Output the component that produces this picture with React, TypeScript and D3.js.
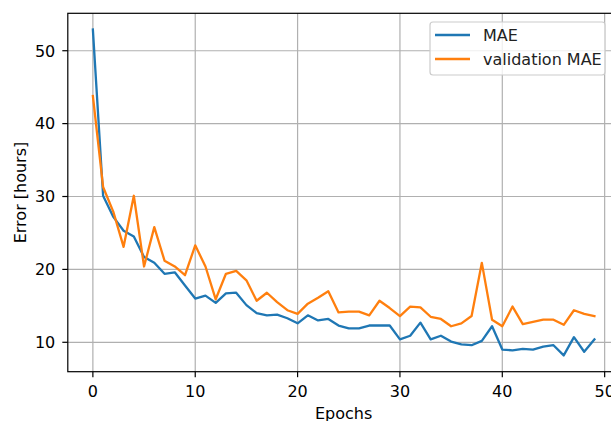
import * as d3 from "d3";

const epochs = d3.range(0, 50);
const mae = [
  52.9, 30.1, 27.2, 25.3, 24.5, 21.7, 20.9, 19.4, 19.6, 17.8,
  16.0, 16.4, 15.4, 16.7, 16.8, 15.1, 14.0, 13.7, 13.8, 13.3,
  12.6, 13.7, 13.0, 13.2, 12.3, 11.9, 11.9, 12.3, 12.3, 12.3,
  10.4, 10.9, 12.7, 10.4, 10.9, 10.1, 9.7, 9.6, 10.2, 12.2,
  9.0, 8.9, 9.1, 9.0, 9.4, 9.6, 8.2, 10.7, 8.7, 10.4,
];
const valMae = [
  43.8, 31.3, 27.9, 23.1, 30.1, 20.4, 25.8, 21.2, 20.4, 19.2,
  23.3, 20.4, 15.9, 19.4, 19.8, 18.5, 15.7, 16.8, 15.5, 14.4,
  13.9, 15.3, 16.1, 17.0, 14.1, 14.2, 14.2, 13.7, 15.7, 14.7,
  13.6, 14.9, 14.8, 13.5, 13.2, 12.2, 12.6, 13.6, 20.9, 13.1,
  12.2, 14.9, 12.5, 12.8, 13.1, 13.1, 12.4, 14.4, 13.9, 13.6,
];
const xTicks = [0, 10, 20, 30, 40, 50];
const yTicks = [10, 20, 30, 40, 50];
const series = [
  { name: "MAE", values: mae, color: "#1f77b4" },
  { name: "validation MAE", values: valMae, color: "#ff7f0e" },
];

const W = 611, H = 421;
const left = 67.8, right = 619.5, top = 13.3, bottom = 371.7;
const font = "DejaVu Sans, sans-serif";
const fs = 16;

export default function App() {
  const all = mae.concat(valMae);
  const lo = d3.min(all)!, hi = d3.max(all)!;
  const pad = (hi - lo) * 0.05;
  const x = d3.scaleLinear().domain([-2.45, 51.45]).range([left, right]);
  const y = d3.scaleLinear().domain([lo - pad, hi + pad]).range([bottom, top]);

  const line = (vals: number[]) =>
    d3.line<number>().x((_, i) => x(epochs[i])).y((d) => y(d))(vals)!;

  return (
    <svg width={W} height={H} style={{ position: "absolute", left: 0, top: 0 }} fontFamily={font}>
      <rect width={W} height={H} fill="white" />
      {/* grid */}
      {xTicks.map((t) => (
        <line key={"gx" + t} x1={x(t)} x2={x(t)} y1={top} y2={bottom} stroke="#b0b0b0" strokeWidth={1.2} />
      ))}
      {yTicks.map((t) => (
        <line key={"gy" + t} x1={left} x2={right} y1={y(t)} y2={y(t)} stroke="#b0b0b0" strokeWidth={1.2} />
      ))}
      {series.map((s) => (
        <path key={s.name} d={line(s.values)} fill="none" stroke={s.color} strokeWidth={2.3} strokeLinejoin="round" strokeLinecap="square" />
      ))}
      {/* spines */}
      <rect x={left} y={top} width={right - left} height={bottom - top} fill="none" stroke="black" strokeWidth={1.2} />
      {xTicks.map((t) => (
        <g key={"xt" + t}>
          <line x1={x(t)} x2={x(t)} y1={bottom} y2={bottom + 5.5} stroke="black" strokeWidth={1.2} />
          <text x={x(t)} y={bottom + 25} textAnchor="middle" fontSize={fs} fill="#000">{t}</text>
        </g>
      ))}
      {yTicks.map((t) => (
        <g key={"yt" + t}>
          <line x1={left - 5.5} x2={left} y1={y(t)} y2={y(t)} stroke="black" strokeWidth={1.2} />
          <text x={left - 12.5} y={y(t) + 5.8} textAnchor="end" fontSize={fs} fill="#000">{t}</text>
        </g>
      ))}
      <text x={(left + right) / 2} y={419} textAnchor="middle" fontSize={fs}>Epochs</text>
      <text transform={`translate(26,${(top + bottom) / 2}) rotate(-90)`} textAnchor="middle" fontSize={fs}>Error [hours]</text>
      {/* legend */}
      <rect x={430} y={22} width={175} height={53} rx={3} fill="white" fillOpacity={0.8} stroke="#cccccc" strokeWidth={1.2} />
      {series.map((s, i) => (
        <g key={"lg" + s.name}>
          <line x1={435} x2={470} y1={35 + i * 24} y2={35 + i * 24} stroke={s.color} strokeWidth={2.3} />
          <text x={483} y={41.3 + i * 23.7} fontSize={fs} fill="#222">{s.name}</text>
        </g>
      ))}
    </svg>
  );
}
